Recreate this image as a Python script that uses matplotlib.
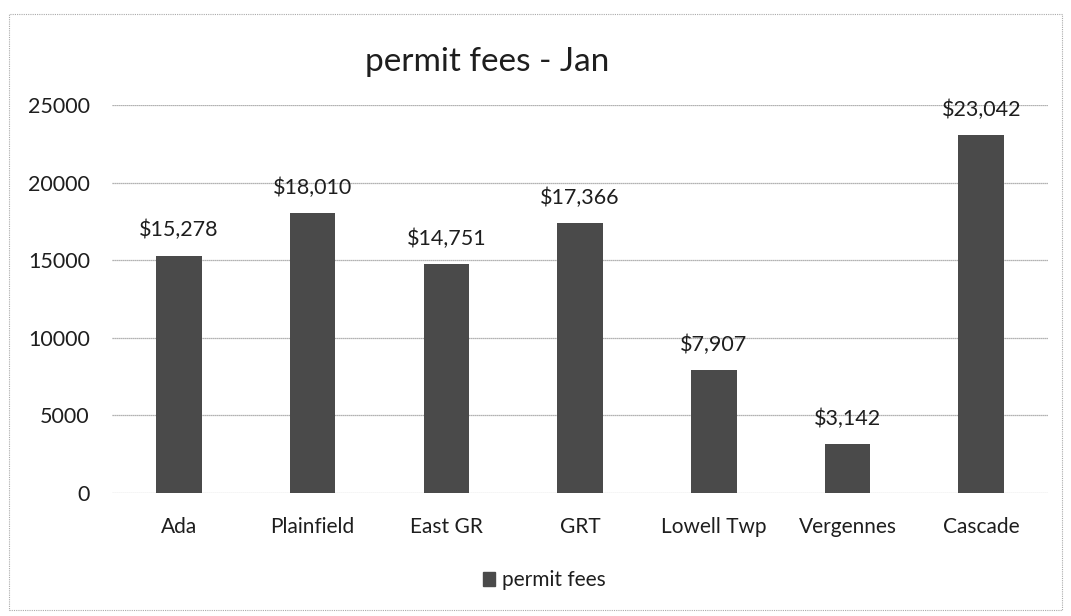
import matplotlib
matplotlib.use("Agg")
import matplotlib.pyplot as plt
from matplotlib.patches import Rectangle

categories = ["Ada", "Plainfield", "East GR", "GRT", "Lowell Twp", "Vergennes", "Cascade"]
values = [15278, 18010, 14751, 17366, 7907, 3142, 23042]
yticks = [0, 5000, 10000, 15000, 20000, 25000]
title = "permit fees - Jan"
series_name = "permit fees"

plt.rcParams['font.family'] = ['Lato', 'DejaVu Sans']
bar_color = "#4a4a4a"
text_color = "#1e1e1e"

fig = plt.figure(figsize=(10.71, 6.16), dpi=100)
ax = fig.add_axes([0.1046, 0.1997, 0.874, 0.630])

x = list(range(len(categories)))
bars = ax.bar(x, values, width=0.34, color=bar_color, zorder=3, label=series_name)
ax.set_xlim(-0.5, len(categories) - 0.5)
ax.set_ylim(0, 25000)
ax.set_yticks(yticks)
ax.set_yticklabels([str(t) for t in yticks], fontsize=15.5, color=text_color)
ax.set_xticks(x)
ax.set_xticklabels(categories, fontsize=15, color=text_color)
ax.tick_params(axis='both', length=0)
ax.tick_params(axis='x', pad=17)
ax.tick_params(axis='y', pad=16)
ax.grid(axis='y', color="#9a9a9a", linewidth=0.9, linestyle=(0, (1, 0.6)), zorder=0)
for s in ax.spines.values():
    s.set_visible(False)

for xi, v in zip(x, values):
    ax.annotate(f"${v:,}", (xi, v), xytext=(0, 11), textcoords="offset points",
                ha="center", va="bottom", fontsize=15.5, color=text_color)

fig.text(0.455, 0.900, title, ha="center", va="center", fontsize=24, color=text_color)

leg = fig.legend(handles=[Rectangle((0, 0), 1, 1, color=bar_color)], labels=[series_name],
                 loc="center", bbox_to_anchor=(0.508, 0.058), frameon=False, fontsize=15,
                 handlelength=0.6, handleheight=0.6, handletextpad=0.3)
for t in leg.get_texts():
    t.set_color(text_color)

border = Rectangle((0.008, 0.01), 0.984, 0.968, transform=fig.transFigure, fill=False,
                   edgecolor="#aaaaaa", linewidth=0.8, linestyle=(0, (1, 1)))
fig.patches.append(border)

fig.savefig("out.png", dpi=100)
